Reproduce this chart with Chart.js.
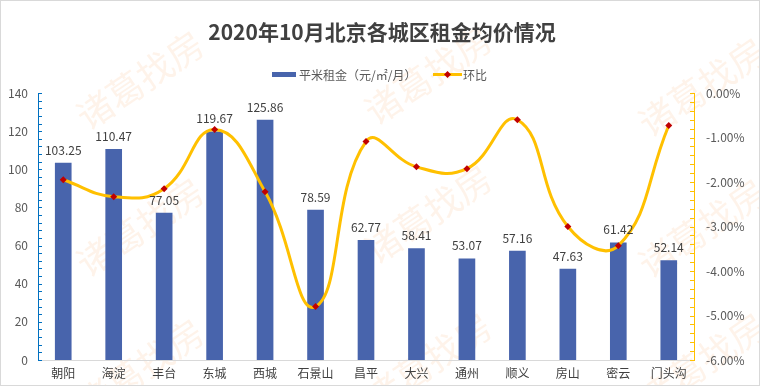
<!DOCTYPE html>
<html>
<head>
<meta charset="utf-8">
<script src="https://cdn.jsdelivr.net/npm/chart.js@4/dist/chart.umd.min.js"></script>
<style>
  html, body { margin: 0; padding: 0; background: #fff; }
  #wrap { width: 760px; height: 386px; position: relative; }
</style>
</head>
<body>
<div id="wrap"><canvas id="c" width="760" height="386"></canvas></div>
<script>
const titleText = '2020年10月北京各城区租金均价情况';
const categories = ['朝阳', '海淀', '丰台', '东城', '西城', '石景山', '昌平', '大兴', '通州', '顺义', '房山', '密云', '门头沟'];
const rentValues = [103.25, 110.47, 77.05, 119.67, 125.86, 78.59, 62.77, 58.41, 53.07, 57.16, 47.63, 61.42, 52.14];
const momChange = [-1.95, -2.33, -2.15, -0.82, -2.22, -4.80, -1.09, -1.66, -1.70, -0.60, -3.00, -3.43, -0.73];
const rentLabel = '平米租金（元/㎡/月）';
const momLabel = '环比';
const watermarkText = '诸葛找房';

const BAR_COLOR = '#4864AC';
const LINE_COLOR = '#FFC000';
const POINT_COLOR = '#C00000';
const TEXT_COLOR = '#404040';
const AXIS_TEXT = '#595959';
const FONT = "'Noto Sans CJK SC', 'Noto Sans', sans-serif";

const decorPlugin = {
  id: 'decor',
  beforeDraw(chart) {
    const ctx = chart.ctx;
    ctx.save();
    ctx.fillStyle = '#ffffff';
    ctx.fillRect(0, 0, chart.width, chart.height);
    // watermarks
    ctx.fillStyle = 'rgba(248, 160, 90, 0.13)';
    ctx.font = '36px ' + FONT;
    ctx.textAlign = 'center';
    ctx.textBaseline = 'middle';
    const spots = [[140, 80], [140, 227], [140, 368], [428, 75], [428, 214], [428, 362], [702, 87], [702, 228], [702, 362]];
    spots.forEach(([x, y]) => {
      ctx.save();
      ctx.translate(x, y);
      ctx.rotate(-34 * Math.PI / 180);
      ctx.fillText(watermarkText, 0, 0);
      ctx.restore();
    });
    ctx.restore();
  },
  afterDraw(chart) {
    const ctx = chart.ctx;
    ctx.save();
    // title
    ctx.fillStyle = TEXT_COLOR;
    ctx.font = 'bold 21px ' + FONT;
    ctx.textAlign = 'center';
    ctx.textBaseline = 'middle';
    ctx.fillText(titleText, 382, 32);
    // legend
    ctx.font = '12px ' + FONT;
    ctx.textAlign = 'left';
    ctx.fillStyle = BAR_COLOR;
    ctx.fillRect(272, 72, 24, 5);
    ctx.fillStyle = AXIS_TEXT;
    ctx.fillText(rentLabel, 299, 75);
    ctx.strokeStyle = LINE_COLOR;
    ctx.lineWidth = 3;
    ctx.beginPath();
    ctx.moveTo(433, 74.5);
    ctx.lineTo(462, 74.5);
    ctx.stroke();
    ctx.fillStyle = POINT_COLOR;
    ctx.beginPath();
    ctx.moveTo(447.5, 71);
    ctx.lineTo(451, 74.5);
    ctx.lineTo(447.5, 78);
    ctx.lineTo(444, 74.5);
    ctx.closePath();
    ctx.fill();
    ctx.fillStyle = AXIS_TEXT;
    ctx.fillText(momLabel, 463, 75);
    // inside tick marks
    const yl = chart.scales.y;
    const yr = chart.scales.y1;
    ctx.lineWidth = 1;
    ctx.strokeStyle = '#0070C0';
    for (let v = 0; v <= 140.0001; v += 4) {
      const py = Math.round(yl.getPixelForValue(v)) + 0.5;
      ctx.beginPath();
      ctx.moveTo(yl.right, py);
      ctx.lineTo(yl.right + 4, py);
      ctx.stroke();
    }
    ctx.strokeStyle = LINE_COLOR;
    for (let i = 0; i <= 30; i++) {
      const v = -6 + i * 0.2;
      const py = Math.round(yr.getPixelForValue(v)) + 0.5;
      ctx.beginPath();
      ctx.moveTo(yr.left, py);
      ctx.lineTo(yr.left - 4, py);
      ctx.stroke();
    }
    // bar value labels
    const meta = chart.getDatasetMeta(0);
    ctx.fillStyle = TEXT_COLOR;
    ctx.font = '12px ' + FONT;
    ctx.textAlign = 'center';
    ctx.textBaseline = 'middle';
    meta.data.forEach((el, i) => {
      ctx.fillText(rentValues[i].toFixed(2), el.x, el.y - 13);
    });
    // outer border
    ctx.strokeStyle = '#D9D9D9';
    ctx.lineWidth = 1;
    ctx.strokeRect(0.5, 0.5, chart.width - 1, chart.height - 1);
    ctx.restore();
  }
};

new Chart(document.getElementById('c'), {
  type: 'bar',
  data: {
    labels: categories,
    datasets: [
      {
        type: 'bar',
        label: rentLabel,
        data: rentValues,
        backgroundColor: BAR_COLOR,
        barThickness: 16,
        yAxisID: 'y',
        order: 2
      },
      {
        type: 'line',
        label: momLabel,
        data: momChange,
        borderColor: LINE_COLOR,
        borderWidth: 3,
        tension: 0.45,
        pointStyle: 'rectRot',
        pointRadius: 3.5,
        pointBackgroundColor: POINT_COLOR,
        pointBorderColor: POINT_COLOR,
        pointBorderWidth: 0,
        yAxisID: 'y1',
        order: 1
      }
    ]
  },
  options: {
    responsive: false,
    animation: false,
    devicePixelRatio: 1,
    layout: { padding: { top: 93, left: 0, right: 0, bottom: 0 } },
    plugins: {
      legend: { display: false },
      title: { display: false },
      tooltip: { enabled: false }
    },
    scales: {
      x: {
        offset: true,
        grid: { display: false, drawTicks: false },
        border: { display: true, color: '#D9D9D9', width: 1 },
        ticks: { color: TEXT_COLOR, font: { size: 12, family: FONT }, padding: 6, maxRotation: 0, autoSkip: false },
        afterFit(s) { s.height = 26; }
      },
      y: {
        position: 'left',
        min: 0,
        max: 140,
        grid: { display: false, drawTicks: false },
        border: { display: true, color: '#0070C0', width: 1 },
        ticks: { stepSize: 20, color: AXIS_TEXT, font: { size: 12, family: FONT }, padding: 10 },
        afterFit(s) { s.width = 38; }
      },
      y1: {
        position: 'right',
        min: -6,
        max: 0,
        grid: { display: false, drawTicks: false },
        border: { display: true, color: LINE_COLOR, width: 1 },
        ticks: {
          stepSize: 1,
          color: AXIS_TEXT,
          font: { size: 12, family: FONT },
          padding: 12,
          callback: (v) => Number(v).toFixed(2) + '%'
        },
        afterFit(s) { s.width = 66; }
      }
    }
  },
  plugins: [decorPlugin]
});
</script>
</body>
</html>
